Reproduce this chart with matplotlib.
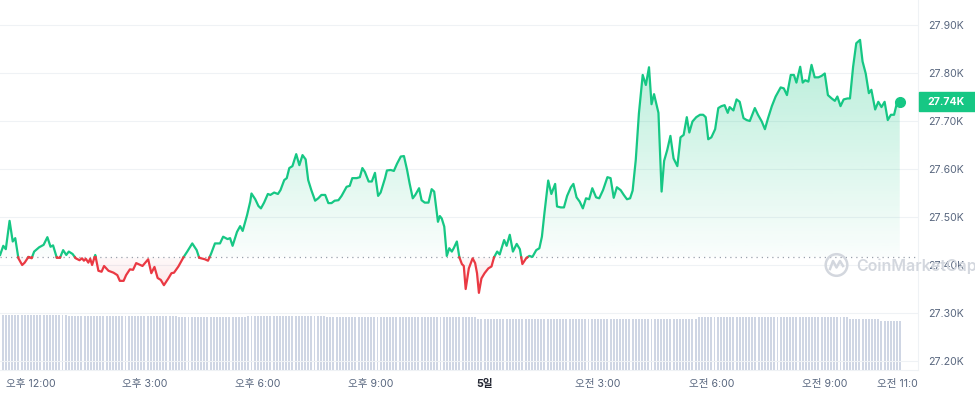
import numpy as np
import matplotlib
matplotlib.use("Agg")
import matplotlib.pyplot as plt
from matplotlib.colors import to_rgb
from matplotlib.path import Path
from matplotlib.patches import Rectangle, Circle
from matplotlib.lines import Line2D
from matplotlib.transforms import Bbox, TransformedBbox, blended_transform_factory

plt.rcParams['font.family'] = ['Inter', 'Noto Sans CJK KR', 'DejaVu Sans']

# time in minutes after 11:00 (day before), price in thousands USD
minutes = [
    11, 16, 20, 26, 31, 35, 40, 46, 50, 56,
    61, 65, 73, 80, 86, 91, 95, 101, 106, 111,
    116, 120, 126, 131, 137, 141, 144, 147, 151, 154,
    157, 162, 167, 172, 176, 183, 191, 197, 201, 207,
    211, 217, 222, 227, 232, 237, 246, 251, 256, 261,
    266, 271, 278, 283, 287, 294, 302, 308, 316, 323,
    327, 336, 341, 346, 352, 360, 365, 372, 376, 380,
    387, 392, 396, 403, 408, 410, 416, 421, 425, 430,
    436, 440, 446, 452, 456, 462, 466, 470, 475, 481,
    486, 491, 496, 500, 505, 511, 516, 521, 527, 532,
    537, 542, 548, 553, 561, 566, 570, 577, 582, 586,
    590, 596, 601, 606, 611, 615, 622, 625, 631, 636,
    641, 647, 652, 657, 661, 666, 670, 676, 680, 685,
    691, 696, 700, 706, 709, 712, 716, 720, 724, 728,
    731, 736, 740, 744, 747, 750, 755, 761, 765, 768,
    771, 775, 780, 786, 791, 795, 800, 804, 811, 815,
    820, 825, 831, 836, 840, 846, 851, 856, 862, 867,
    871, 875, 881, 886, 892, 895, 901, 906, 911, 917,
    921, 926, 931, 936, 941, 946, 951, 957, 962, 968,
    975, 980, 985, 990, 996, 1001, 1006, 1011, 1015, 1020,
    1025, 1031, 1036, 1041, 1045, 1049, 1056, 1061, 1065, 1070,
    1075, 1080, 1086, 1091, 1096, 1101, 1105, 1110, 1116, 1122,
    1127, 1131, 1135, 1140, 1146, 1151, 1156, 1161, 1166, 1169,
    1175, 1180, 1185, 1191, 1196, 1201, 1209, 1214, 1220, 1225,
    1230, 1236, 1242, 1250, 1255, 1260, 1266, 1271, 1275, 1281,
    1285, 1289, 1294, 1299, 1304, 1310, 1315, 1320, 1325, 1331,
    1336, 1340, 1345, 1350, 1356, 1360, 1365, 1370, 1376, 1380,
    1385, 1390, 1394, 1400, 1405, 1410, 1415, 1420, 1425, 1430,
    1435, 1439,
]
price = [
    27.421, 27.440, 27.433, 27.492, 27.449, 27.456, 27.414, 27.400, 27.405, 27.417,
    27.414, 27.428, 27.437, 27.442, 27.458, 27.438, 27.441, 27.415, 27.415, 27.431,
    27.421, 27.428, 27.423, 27.414, 27.410, 27.414, 27.409, 27.413, 27.405, 27.413,
    27.400, 27.421, 27.388, 27.386, 27.398, 27.388, 27.384, 27.379, 27.367, 27.367,
    27.379, 27.391, 27.390, 27.404, 27.401, 27.398, 27.412, 27.383, 27.396, 27.373,
    27.369, 27.358, 27.372, 27.383, 27.384, 27.397, 27.416, 27.428, 27.445, 27.431,
    27.415, 27.412, 27.409, 27.424, 27.445, 27.445, 27.459, 27.454, 27.456, 27.440,
    27.469, 27.481, 27.471, 27.504, 27.532, 27.549, 27.537, 27.523, 27.518, 27.530,
    27.548, 27.546, 27.551, 27.548, 27.556, 27.577, 27.581, 27.602, 27.606, 27.631,
    27.608, 27.629, 27.620, 27.577, 27.556, 27.534, 27.539, 27.546, 27.546, 27.529,
    27.529, 27.534, 27.535, 27.544, 27.563, 27.565, 27.581, 27.581, 27.583, 27.602,
    27.594, 27.574, 27.574, 27.592, 27.544, 27.551, 27.581, 27.597, 27.598, 27.596,
    27.611, 27.626, 27.627, 27.598, 27.570, 27.539, 27.546, 27.560, 27.535, 27.530,
    27.530, 27.558, 27.553, 27.490, 27.502, 27.497, 27.480, 27.419, 27.435, 27.428,
    27.435, 27.449, 27.416, 27.402, 27.398, 27.350, 27.393, 27.414, 27.404, 27.383,
    27.342, 27.372, 27.383, 27.393, 27.397, 27.416, 27.428, 27.422, 27.452, 27.440,
    27.463, 27.428, 27.444, 27.433, 27.402, 27.414, 27.419, 27.417, 27.431, 27.435,
    27.459, 27.508, 27.576, 27.548, 27.569, 27.522, 27.520, 27.520, 27.544, 27.562,
    27.569, 27.541, 27.532, 27.518, 27.539, 27.537, 27.560, 27.541, 27.539, 27.556,
    27.583, 27.581, 27.540, 27.562, 27.556, 27.546, 27.537, 27.539, 27.555, 27.619,
    27.716, 27.796, 27.775, 27.812, 27.735, 27.756, 27.717, 27.553, 27.617, 27.640,
    27.669, 27.622, 27.606, 27.666, 27.671, 27.708, 27.676, 27.699, 27.708, 27.713,
    27.713, 27.708, 27.662, 27.666, 27.683, 27.727, 27.731, 27.733, 27.717, 27.729,
    27.722, 27.745, 27.740, 27.706, 27.702, 27.700, 27.727, 27.713, 27.699, 27.683,
    27.706, 27.731, 27.751, 27.770, 27.768, 27.754, 27.796, 27.796, 27.780, 27.813,
    27.780, 27.785, 27.782, 27.817, 27.791, 27.791, 27.794, 27.799, 27.754, 27.747,
    27.742, 27.751, 27.731, 27.745, 27.747, 27.747, 27.813, 27.862, 27.869, 27.824,
    27.799, 27.758, 27.765, 27.724, 27.740, 27.729, 27.740, 27.702, 27.713, 27.713,
    27.740, 27.740,
]
base_price = 27.416
last_label = '27.74K'

# 24h volume bars, every 5 minutes, given as runs of equal height (billions)
vol_start = 10
vol_step = 5
vol_levels = [14.60, 14.42, 14.07, 14.42, 14.20, 13.54, 13.41, 13.67, 14.15, 13.46, 13.01]
vol_counts = [22, 35, 22, 25, 48, 25, 26, 19, 48, 10, 7]

tick_minutes = [60, 240, 420, 600, 780, 960, 1140, 1320, 1440]
tick_labels = ['오후 12:00', '오후 3:00', '오후 6:00', '오후 9:00', '5일',
               '오전 3:00', '오전 6:00', '오전 9:00', '오전 11:00']
y_ticks = [27.2, 27.3, 27.4, 27.5, 27.6, 27.7, 27.8, 27.9]

GREEN = '#16c784'
RED = '#ea3943'
GRID = '#eff2f5'
TEXT = '#58667e'
X_RANGE = (10.8, 1468)


def split_at_base(t, p, base):
    # add a point wherever the line crosses the base so colours switch cleanly
    tt, pp = [t[0]], [p[0]]
    for i in range(1, len(t)):
        a, b = p[i - 1] - base, p[i] - base
        if a * b < 0:
            f = a / (a - b)
            tt.append(t[i - 1] + f * (t[i] - t[i - 1]))
            pp.append(base)
        tt.append(t[i])
        pp.append(p[i])
    return np.array(tt), np.array(pp)


def gradient_fill(ax, poly, color, top, bottom, a_top, a_bottom, x0, x1):
    rgba = np.zeros((256, 1, 4))
    rgba[..., :3] = to_rgb(color)
    rgba[..., 3] = np.linspace(a_top, a_bottom, 256)[:, None]
    im = ax.imshow(rgba, extent=[x0, x1, bottom, top], aspect='auto',
                   origin='upper', zorder=1, interpolation='bilinear')
    paths = poly.get_paths()
    if paths:
        im.set_clip_path(Path.make_compound_path(*paths), ax.transData)
    else:
        im.remove()


W, H = 975, 396
fig = plt.figure(figsize=(W / 100, H / 100), dpi=100)
pos = [0, (H - 370) / H, 918 / W, 370 / H]

# volume axes sits behind the price axes
ax_v = fig.add_axes(pos, zorder=0)
vol = np.repeat(vol_levels, vol_counts)
vol_t = vol_start + vol_step * np.arange(len(vol))
ax_v.bar(vol_t, vol, width=vol_step * 0.62, color='#cfd6e4', linewidth=0)
ax_v.set_xlim(*X_RANGE)
ax_v.set_ylim(0, max(vol_levels) * 370 / 55)
ax_v.axis('off')

ax = fig.add_axes(pos, zorder=1)
ax.patch.set_visible(False)

t = np.array(minutes, dtype=float)
p = np.array(price)
tt, pp = split_at_base(t, p, base_price)

up = ax.fill_between(tt, pp, base_price, where=pp >= base_price, color='none', lw=0)
dn = ax.fill_between(tt, pp, base_price, where=pp <= base_price, color='none', lw=0)
gradient_fill(ax, up, GREEN, 27.90, base_price, 0.34, 0.02, tt[0], tt[-1])
gradient_fill(ax, dn, RED, base_price, 27.33, 0.03, 0.16, tt[0], tt[-1])

ax.plot(tt, np.where(pp >= base_price, pp, np.nan), color=GREEN, lw=1.6, zorder=3,
        solid_joinstyle='round')
ax.plot(tt, np.where(pp <= base_price, pp, np.nan), color=RED, lw=1.6, zorder=3,
        solid_joinstyle='round')
ax.plot(t[-1], p[-1], 'o', color=GREEN, ms=7, zorder=4)

ax.axhline(base_price, color='#9aa1ad', lw=0.9, ls=(0, (1, 3.2)), zorder=2)

ax.set_xlim(*X_RANGE)
ax.set_ylim(27.1813, 27.9521)

ax.set_yticks(y_ticks, [f'{v:.2f}K' for v in y_ticks])
ax.yaxis.tick_right()
ax.grid(axis='y', color=GRID, lw=0.8, zorder=0)
ax.set_axisbelow(True)
ax.tick_params(axis='y', length=0, pad=7.5, labelsize=7.6, labelcolor=TEXT)

ax.set_xticks(tick_minutes, tick_labels)
ax.tick_params(axis='x', length=0, pad=6.5, labelsize=7.6, labelcolor=TEXT)
for lab in ax.get_xticklabels():
    if lab.get_text() == '5일':
        lab.set_fontweight('bold')
        lab.set_color('#222531')
clip = TransformedBbox(Bbox([[0, 0], [918 / W, 1]]), fig.transFigure)
last_tick = ax.xaxis.get_major_ticks()[-1].label1
last_tick.set_clip_on(True)
last_tick.set_clip_box(clip)

for side in ['top', 'left']:
    ax.spines[side].set_visible(False)
for side in ['right', 'bottom']:
    ax.spines[side].set_color(GRID)
    ax.spines[side].set_linewidth(0.8)

# current price tag on the right
tr = blended_transform_factory(fig.transFigure, ax.transData)
ax.add_patch(Rectangle((919 / W, p[-1] - 0.0198), 56 / W, 0.0396, transform=tr,
                       color=GREEN, clip_on=False, zorder=5))
ax.text(946.5 / W, p[-1], last_label, transform=tr, ha='center', va='center',
        color='white', fontsize=7.6, fontweight='bold', zorder=6, clip_on=False)

# watermark
wm = '#d3d7de'
fig.add_artist(Circle((8.365, 1.31), 0.108, transform=fig.dpi_scale_trans,
                      fill=False, ec=wm, lw=1.8, zorder=10))
fig.add_artist(Line2D([8.30, 8.33, 8.365, 8.40, 8.43], [1.27, 1.35, 1.285, 1.35, 1.30],
                      transform=fig.dpi_scale_trans, color=wm, lw=1.8, zorder=10))
fig.text(856 / W, 1 - 266 / H, 'CoinMarketCap', color=wm, fontsize=11.5,
         fontweight='semibold', va='center', ha='left', zorder=10)

fig.savefig('out.png', dpi=100, facecolor='white')
